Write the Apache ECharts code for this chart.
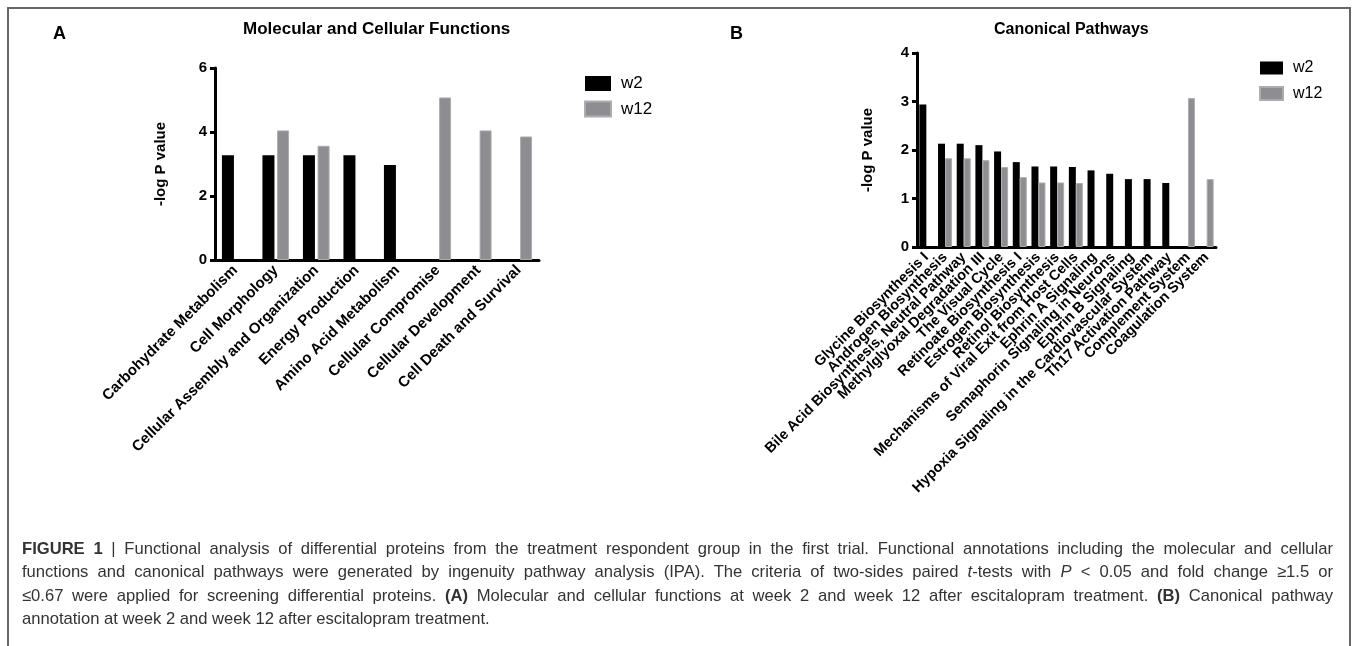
<!DOCTYPE html>
<html>
<head>
<meta charset="utf-8">
<script src="https://cdn.jsdelivr.net/npm/echarts@6/dist/echarts.min.js"></script>
<style>
  html, body { margin:0; padding:0; background:#fff; }
  #wrap { position:relative; width:1358px; height:646px; overflow:hidden; background:#fff; }
  #chart { position:absolute; left:0; top:0; width:1358px; height:646px; }
  #frame { position:absolute; left:7px; top:7px; width:1344px; height:700px; border:2px solid #666; box-sizing:border-box; pointer-events:none; }
  #caption { position:absolute; left:22px; top:537px; width:1311px; font-family:"Liberation Sans", Arial, sans-serif; font-size:16.6px; line-height:23.3px; color:#333; }
  #caption div { white-space:nowrap; }
  #caption div.j { text-align:justify; text-align-last:justify; }
</style>
</head>
<body>
<div id="wrap">
  <div id="chart"></div>
  <div id="frame"></div>
  <div id="caption">
    <div class="j"><b>FIGURE 1</b> | Functional analysis of differential proteins from the treatment respondent group in the first trial. Functional annotations including the molecular and cellular</div>
    <div class="j">functions and canonical pathways were generated by ingenuity pathway analysis (IPA). The criteria of two-sides paired <i>t</i>-tests with <i>P</i> &lt; 0.05 and fold change &ge;1.5 or</div>
    <div class="j">&le;0.67 were applied for screening differential proteins. <b>(A)</b> Molecular and cellular functions at week 2 and week 12 after escitalopram treatment. <b>(B)</b> Canonical pathway</div>
    <div>annotation at week 2 and week 12 after escitalopram treatment.</div>
  </div>
</div>
<script>
// ---- Panel A data ----
const leftCategories = [
  'Carbohydrate Metabolism', 'Cell Morphology', 'Cellular Assembly and Organization',
  'Energy Production', 'Amino Acid Metabolism', 'Cellular Compromise',
  'Cellular Development', 'Cell Death and Survival'
];
const leftW2  = [3.27, 3.27, 3.27, 3.27, 2.97, null, null, null];
const leftW12 = [null, 4.05, 3.57, null, null, 5.08, 4.05, 3.86];
const leftYTicks = [0, 2, 4, 6];

// ---- Panel B data ----
const rightCategories = [
  'Glycine Biosynthesis I', 'Androgen Biosynthesis', 'Bile Acid Biosynthesis, Neutral Pathway',
  'Methylglyoxal Degradation III', 'The Visual Cycle', 'Retinoate Biosynthesis I',
  'Estrogen Biosynthesis', 'Retinol Biosynthesis', 'Mechanisms of Viral Exit from Host Cells',
  'Ephrin A Signaling', 'Semaphorin Signaling in Neurons', 'Ephrin B Signaling',
  'Hypoxia Signaling in the Cardiovascular System', 'Th17 Activation Pathway',
  'Complement System', 'Coagulation System'
];
const rightW2  = [2.94, 2.13, 2.13, 2.10, 1.97, 1.75, 1.66, 1.66, 1.65, 1.58, 1.51, 1.40, 1.40, 1.32, null, null];
const rightW12 = [null, 1.83, 1.83, 1.79, 1.65, 1.44, 1.33, 1.33, 1.32, null, null, null, null, null, 3.07, 1.40];
const rightYTicks = [0, 1, 2, 3, 4];

const seriesNames = ['w2', 'w12'];
const FONT = '"Liberation Sans", Arial, sans-serif';
const BLACK = '#000000';
const GREY = '#8e8e92';

function xAxisCfg(gi, cats, fs) {
  return {
    type: 'category', gridIndex: gi, data: cats,
    axisLine: { lineStyle: { color: BLACK, width: 3 } },
    axisTick: { alignWithLabel: true, length: 7, lineStyle: { color: BLACK, width: 3 } },
    axisLabel: { interval: 0, rotate: 45, margin: 8, color: BLACK, fontSize: fs, fontWeight: 'bold', fontFamily: FONT }
  };
}
function yAxisCfg(gi, ticks, gap) {
  return {
    type: 'value', gridIndex: gi, min: ticks[0], max: ticks[ticks.length - 1],
    interval: ticks[1] - ticks[0],
    name: '-log P value', nameLocation: 'middle', nameGap: gap, nameRotate: 90,
    nameTextStyle: { color: BLACK, fontSize: 15, fontWeight: 'bold', fontFamily: FONT },
    axisLine: { show: true, lineStyle: { color: BLACK, width: 3 } },
    axisTick: { show: true, length: 5, lineStyle: { color: BLACK, width: 3 } },
    splitLine: { show: false },
    axisLabel: { margin: 8, color: BLACK, fontSize: 15, fontWeight: 'bold', fontFamily: FONT }
  };
}

const chart = echarts.init(document.getElementById('chart'), null, { renderer: 'canvas' });
chart.setOption({
  animation: false,
  backgroundColor: 'transparent',
  textStyle: { fontFamily: FONT },
  title: [
    { text: 'A', left: 53, top: 25, padding: 0, textStyle: { fontSize: 18, fontWeight: 'bold', color: BLACK, fontFamily: FONT } },
    { text: 'Molecular and Cellular Functions', left: 243, top: 21, padding: 0, textStyle: { fontSize: 17, fontWeight: 'bold', color: BLACK, fontFamily: FONT } },
    { text: 'B', left: 730, top: 25, padding: 0, textStyle: { fontSize: 18, fontWeight: 'bold', color: BLACK, fontFamily: FONT } },
    { text: 'Canonical Pathways', left: 994, top: 22, padding: 0, textStyle: { fontSize: 16, fontWeight: 'bold', color: BLACK, fontFamily: FONT } }
  ],
  legend: [
    { data: seriesNames, orient: 'vertical', left: 584, top: 75, padding: 0, itemWidth: 26, itemHeight: 15, itemGap: 8.5, icon: 'rect',
      textStyle: { fontSize: 17, color: BLACK, fontFamily: FONT, padding: [0, 0, 0, 5] } },
    { data: seriesNames, orient: 'vertical', left: 1259, top: 60, padding: 0, itemWidth: 23, itemHeight: 13, itemGap: 9.5, icon: 'rect',
      textStyle: { fontSize: 16, color: BLACK, fontFamily: FONT, padding: [0, 0, 0, 5] } }
  ],
  grid: [
    { left: 215, top: 68, width: 324, height: 192 },
    { left: 917, top: 53, width: 299, height: 194 }
  ],
  xAxis: [ xAxisCfg(0, leftCategories, 15), xAxisCfg(1, rightCategories, 14.5) ],
  yAxis: [ yAxisCfg(0, leftYTicks, 47), yAxisCfg(1, rightYTicks, 42) ],
  series: [
    { type: 'bar', name: seriesNames[0], xAxisIndex: 0, yAxisIndex: 0, data: leftW2, barWidth: 12,
      itemStyle: { color: BLACK } },
    { type: 'bar', name: seriesNames[1], xAxisIndex: 0, yAxisIndex: 0, data: leftW12, barWidth: 12, barGap: '22%',
      itemStyle: { color: GREY, borderColor: '#adadaf', borderWidth: 1 } },
    { type: 'bar', name: seriesNames[0], xAxisIndex: 1, yAxisIndex: 1, data: rightW2, barWidth: 7,
      itemStyle: { color: BLACK } },
    { type: 'bar', name: seriesNames[1], xAxisIndex: 1, yAxisIndex: 1, data: rightW12, barWidth: 7, barGap: '0%',
      itemStyle: { color: GREY, borderColor: '#adadaf', borderWidth: 1 } }
  ]
});
</script>
</body>
</html>
